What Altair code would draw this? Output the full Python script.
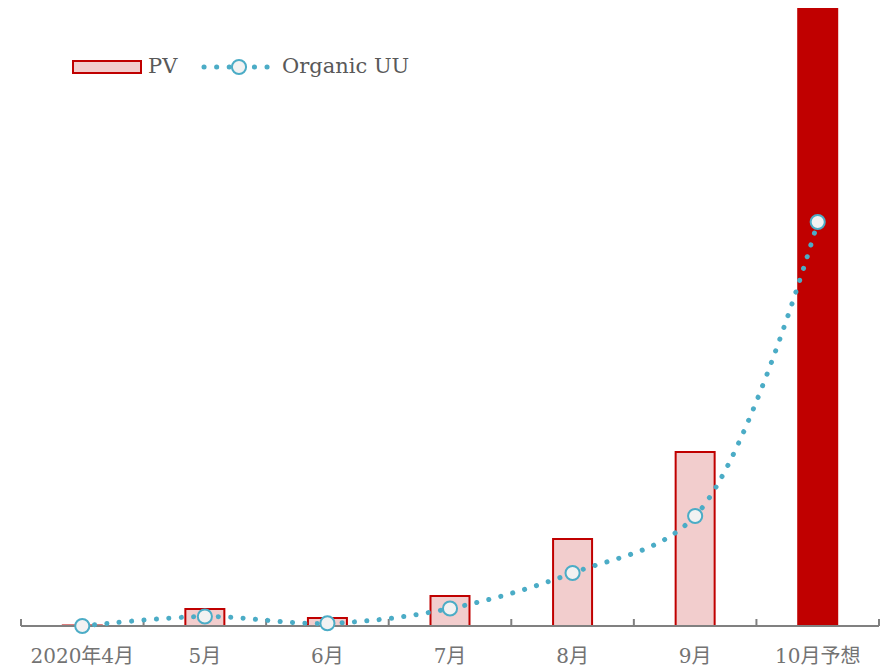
import altair as alt
import pandas as pd

# ---- data ----
months = ["2020年4月", "5月", "6月", "7月", "8月", "9月", "10月予想"]
pv = [0.6, 17, 8, 30, 87, 174, 620]
organic_uu = [0, 9.5, 2.7, 17.5, 53, 110, 404]
kind = ["actual", "actual", "actual", "actual", "actual", "actual", "forecast"]
tick_bounds = [0, 1, 2, 3, 4, 5, 6, 7]

W, H = 858, 618
RED = "#c00000"
PINK = "#f2cdcd"
BLUE = "#4bacc6"
FONT = "DejaVu Serif, Noto Sans CJK JP"

df = pd.DataFrame({"month": months, "PV": pv, "UU": organic_uu, "kind": kind})
one = pd.DataFrame({"a": [0]})
ticks_df = pd.DataFrame({"b": tick_bounds})

y_scale = alt.Scale(domain=[0, 618], nice=False, zero=True)
band = alt.Scale(paddingInner=0, paddingOuter=0)
x_axis = alt.X(
    "month:N",
    sort=months,
    scale=band,
    axis=alt.Axis(
        title=None, domain=False, ticks=False, labelAngle=0,
        labelFont=FONT, labelFontSize=20, labelColor="#737373",
        labelPadding=20, labelBaseline="top",
    ),
)
x_plain = alt.X("month:N", sort=months, scale=band, axis=None)

bars = alt.Chart(df).mark_bar(size=39, stroke=RED, strokeWidth=2).encode(
    x=x_axis,
    y=alt.Y("PV:Q", scale=y_scale, axis=None),
    fill=alt.Fill("kind:N", scale=alt.Scale(domain=["actual", "forecast"], range=[PINK, RED]), legend=None),
)

baseline = alt.Chart(one).mark_rule(color="#808080", strokeWidth=2).encode(
    x=alt.value(0), x2=alt.value(W), y=alt.value(H)
)

ticks = alt.Chart(ticks_df).mark_rule(color="#808080", strokeWidth=2).encode(
    x=alt.X("b:Q", scale=alt.Scale(domain=[0, 7], nice=False, zero=False), axis=None),
    y=alt.value(H - 7), y2=alt.value(H),
)

line = alt.Chart(df).mark_line(
    interpolate="catmull-rom", color=BLUE, strokeWidth=5,
    strokeDash=[0.1, 12.3], strokeCap="round",
).encode(x=x_plain, y=alt.Y("UU:Q", scale=y_scale, axis=None))

pts = alt.Chart(df).mark_point(
    shape="circle", size=200, filled=True, fill="#f2f2f2",
    stroke=BLUE, strokeWidth=2, opacity=1,
).encode(x=x_plain, y=alt.Y("UU:Q", scale=y_scale, axis=None))

# ---- legend ----
leg_rect = alt.Chart(one).mark_rect(fill=PINK, stroke=RED, strokeWidth=2).encode(
    x=alt.value(52), x2=alt.value(120), y=alt.value(53), y2=alt.value(65)
)
leg_pv = alt.Chart(one).mark_text(
    align="left", baseline="middle", fontSize=21, color="#595959", font=FONT
).encode(x=alt.value(127), y=alt.value(59), text=alt.value("PV"))
leg_line = alt.Chart(one).mark_rule(
    color=BLUE, strokeWidth=5, strokeDash=[0.1, 12.5], strokeCap="round"
).encode(x=alt.value(183), x2=alt.value(247), y=alt.value(59))
leg_pt = alt.Chart(one).mark_point(
    shape="circle", size=200, filled=True, fill="#f2f2f2",
    stroke=BLUE, strokeWidth=2, opacity=1,
).encode(x=alt.value(218), y=alt.value(59))
leg_uu = alt.Chart(one).mark_text(
    align="left", baseline="middle", fontSize=21, color="#595959", font=FONT
).encode(x=alt.value(261), y=alt.value(59), text=alt.value("Organic UU"))

chart = alt.layer(
    bars, baseline, ticks, line, pts, leg_rect, leg_pv, leg_line, leg_pt, leg_uu
).resolve_scale(x="independent").properties(
    width=W, height=H,
    padding={"left": 13, "top": 0, "right": 2, "bottom": 42},
    autosize=alt.AutoSizeParams(type="none"),
).configure_view(stroke=None)

chart.save("out.html", embed_options={"renderer": "svg", "actions": False})
